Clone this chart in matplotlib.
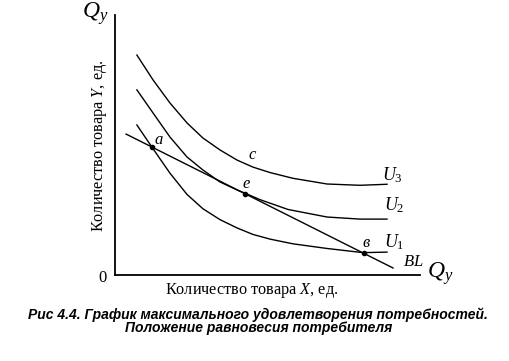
import matplotlib.pyplot as plt

plt.rcParams["font.family"] = ["Liberation Serif", "DejaVu Serif"]
plt.rcParams["mathtext.fontset"] = "custom"
plt.rcParams["mathtext.rm"] = "Liberation Serif"
plt.rcParams["mathtext.it"] = "Liberation Serif:italic"

# Кривые безразличия
u3_x = [0.73, 1.27, 1.83, 2.40, 2.93, 3.50, 4.07, 4.60, 5.17, 5.93, 7.07, 8.17, 9.07]
u3_y = [8.46, 7.50, 6.62, 5.85, 5.27, 4.81, 4.42, 4.15, 3.94, 3.72, 3.50, 3.45, 3.49]

u2_x = [0.73, 1.27, 1.83, 2.40, 2.93, 3.50, 4.07, 4.33, 4.83, 5.77, 7.07, 8.17, 9.07]
u2_y = [7.12, 6.23, 5.31, 4.54, 4.04, 3.58, 3.27, 3.15, 2.90, 2.52, 2.23, 2.15, 2.15]

u1_x = [0.73, 1.23, 1.83, 2.40, 2.93, 3.50, 4.07, 4.60, 5.17, 5.93, 7.07, 8.27, 9.07]
u1_y = [5.77, 4.92, 3.92, 3.10, 2.55, 2.13, 1.81, 1.56, 1.38, 1.20, 1.02, 0.86, 0.88]

# Бюджетная линия
bl_x = [0.37, 9.27]
bl_y = [5.42, 0.27]

# Точки a, e, в
pt_x = [1.23, 4.33, 8.3]
pt_y = [4.94, 3.13, 0.85]

fig = plt.figure(figsize=(5.1, 3.61), dpi=100)
ax = fig.add_axes([115 / 510, 1 - 275 / 361, 305 / 510, 260 / 361])

lw = 1.0
ax.plot(u3_x, u3_y, color="black", lw=lw)
ax.plot(u2_x, u2_y, color="black", lw=lw)
ax.plot(u1_x, u1_y, color="black", lw=lw)
ax.plot(bl_x, bl_y, color="black", lw=lw)
ax.plot(pt_x, pt_y, "o", color="black", markersize=3)

ax.set_xlim(0, 10.17)
ax.set_ylim(0, 10)
for s in ["top", "right"]:
    ax.spines[s].set_visible(False)
for s in ["left", "bottom"]:
    ax.spines[s].set_linewidth(1.3)
ax.set_xticks([])
ax.set_yticks([])

fs = 12
ax.text(1.45, 5.2, "$a$", fontsize=fs, ha="center", va="center")
ax.text(4.37, 3.5, "$e$", fontsize=fs, ha="center", va="center")
ax.text(4.6, 4.6, "$c$", fontsize=fs, ha="center", va="center")
ax.text(8.37, 1.22, "в", fontsize=fs, style="italic", ha="center", va="center")
ax.text(9.25, 3.85, "$U_3$", fontsize=13, ha="center", va="center")
ax.text(9.3, 2.69, "$U_2$", fontsize=13, ha="center", va="center")
ax.text(9.3, 1.27, "$U_1$", fontsize=13, ha="center", va="center")
ax.text(9.95, 0.5, "$BL$", fontsize=12, ha="center", va="center")

fig.text(95 / 510, 1 - 14 / 361, "$Q_y$", fontsize=17, ha="center", va="center")
fig.text(440 / 510, 1 - 274 / 361, "$Q_y$", fontsize=17, ha="center", va="center")
fig.text(103 / 510, 1 - 278 / 361, "0", fontsize=12, ha="center", va="center")

fig.text(100 / 510, 1 - 146 / 361, "Количество товара $Y$, ед.", fontsize=11.7,
         rotation=90, ha="center", va="center")
fig.text(252 / 510, 1 - 290 / 361, "Количество товара $X$, ед.", fontsize=11.7,
         ha="center", va="center")

cap = dict(family="Liberation Sans", weight="bold", style="italic", fontsize=10)
fig.text(28 / 510, 1 - 315 / 361,
         "Рис 4.4. График максимального удовлетворения потребностей.",
         ha="left", va="center", **cap)
fig.text(125 / 510, 1 - 328 / 361, "Положение равновесия потребителя",
         ha="left", va="center", **cap)

fig.savefig("out.png", dpi=100, facecolor="white")
